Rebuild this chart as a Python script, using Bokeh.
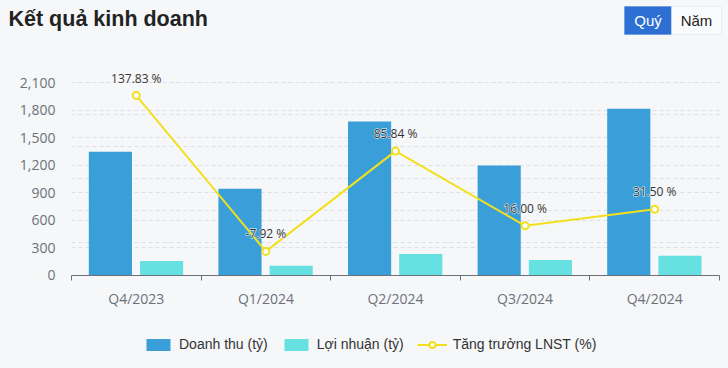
from bokeh.plotting import figure
from bokeh.models import (ColumnDataSource, Range1d, FixedTicker, Grid, NumeralTickFormatter,
                          LinearAxis, Label, LabelSet, BoxAnnotation, Legend, LegendItem)
from bokeh.transform import dodge
from bokeh.core.properties import value
from bokeh.embed import file_html
from bokeh.resources import INLINE

# ---- data ----
quarters = ["Q4/2023", "Q1/2024", "Q2/2024", "Q3/2024", "Q4/2024"]
revenue = [1345, 940, 1675, 1195, 1815]
profit = [152, 100, 228, 165, 210]
growth = [137.83, -7.92, 85.84, 16.00, 31.50]
y_ticks = [0, 300, 600, 900, 1200, 1500, 1800, 2100]
pct_ticks = [-30, 0, 30, 60, 90, 120, 150]

BG = "#f5f7f9"
C_REV = "#3a9fd8"
C_PRO = "#66e0e1"
C_LINE = "#f3e01c"
AX = "#6e7079"
GRID = "#dce0e7"

# ---- layout (page pixels) ----
W, H = 728, 368
PL, PR, PT, PB = 71, 719, 82, 274.5   # plotting area edges
n = len(quarters)
ux = n / (PR - PL)                          # x data units per pixel
uy = (y_ticks[-1] - y_ticks[0]) / (PB - PT) # left axis units per pixel
up = (pct_ticks[-1] - pct_ticks[0]) / (PB - PT)

src = ColumnDataSource(dict(
    x=[i + 0.5 for i in range(n)],
    rev=revenue, pro=profit, g=growth,
    lab=["%.2f %%" % v for v in growth],
))

p = figure(width=W, height=H, output_backend="svg", toolbar_location=None,
           x_range=Range1d(-PL * ux, n + (W - PR) * ux),
           y_range=Range1d(y_ticks[0] - (H - PB) * uy, y_ticks[-1] + PT * uy),
           min_border=0, background_fill_color=BG, border_fill_color=BG,
           outline_line_color=None, x_axis_location=None, y_axis_location=None)
p.extra_y_ranges = {"pct": Range1d(pct_ticks[0] - (H - PB) * up, pct_ticks[-1] + PT * up)}
p.xgrid.visible = False
p.ygrid.visible = False

# grids
g1 = Grid(dimension=1, ticker=FixedTicker(ticks=y_ticks), cross_bounds=(0, n),
          grid_line_color=GRID, grid_line_dash="4 3")
g2 = Grid(dimension=1, ticker=FixedTicker(ticks=pct_ticks), y_range_name="pct",
          cross_bounds=(0, n), grid_line_color=GRID, grid_line_dash="4 3")
p.add_layout(g1)
p.add_layout(g2)

# axes
ya = LinearAxis(fixed_location=0, ticker=FixedTicker(ticks=y_ticks),
                formatter=NumeralTickFormatter(format="0,0"),
                axis_line_color=None, major_tick_line_color=None, minor_tick_line_color=None,
                major_label_text_font="Open Sans", major_label_text_font_size="14px",
                major_label_text_color=AX, major_label_standoff=10)
p.add_layout(ya, "left")

xa = LinearAxis(fixed_location=0, bounds=(0, n),
                ticker=FixedTicker(ticks=[i + 0.5 for i in range(n)],
                                   minor_ticks=list(range(n + 1))),
                major_label_overrides={i + 0.5: q for i, q in enumerate(quarters)},
                axis_line_color=AX, major_tick_line_color=None,
                minor_tick_line_color=AX, minor_tick_out=5, minor_tick_in=0,
                major_label_text_font="Open Sans", major_label_text_font_size="14px",
                major_label_text_color=AX, major_label_standoff=8)
p.add_layout(xa, "below")

# bars
r1 = p.vbar(x=dodge("x", -0.2, range=p.x_range), top="rev", bottom=0, width=0.333,
            source=src, fill_color=C_REV, line_color=None)
r2 = p.vbar(x=dodge("x", 0.195, range=p.x_range), top="pro", bottom=0, width=0.333,
            source=src, fill_color=C_PRO, line_color=None)

# line
rl = p.line(x="x", y="g", source=src, y_range_name="pct", line_color=C_LINE, line_width=2)
rc = p.scatter(x="x", y="g", source=src, y_range_name="pct", marker="circle", size=7,
               fill_color="white", line_color=C_LINE, line_width=2)

lab_kw = dict(x="x", y="g", text="lab", source=src, y_range_name="pct",
              y_offset=9, text_align="center", text_baseline="bottom",
              text_font=value("Open Sans"), text_font_size=value("12px"),
              text_color=value("#333333"))
p.add_layout(LabelSet(text_outline_color=value("white"), **lab_kw))
p.add_layout(LabelSet(**lab_kw))

# legend
legend = Legend(items=[
    LegendItem(label="Doanh thu (tỷ)", renderers=[r1]),
    LegendItem(label="Lợi nhuận (tỷ)", renderers=[r2]),
    LegendItem(label="Tăng trưởng LNST (%)", renderers=[rl, rc]),
], orientation="horizontal", location=(143, H - 352),
    glyph_width=30, glyph_height=15, label_height=15, label_standoff=6, spacing=13,
    padding=0, margin=0, border_line_color=None, background_fill_alpha=0,
    label_text_font="Liberation Sans", label_text_font_size="14px", label_text_color="#333333")
p.add_layout(legend)

# title
p.add_layout(Label(x=8, y=H - 18, x_units="screen", y_units="screen",
                   text="Kết quả kinh doanh", text_font="Liberation Sans",
                   text_font_style="bold", text_font_size="21.5px", text_color="#222222",
                   text_baseline="middle"))

# buttons
box_kw = dict(left_units="screen", right_units="screen", bottom_units="screen",
              top_units="screen", fill_alpha=1, bottom=H - 34, top=H - 6)
p.add_layout(BoxAnnotation(left=624, right=671, fill_color="#2e6fd3",
                           line_color="#2e6fd3", **box_kw))
p.add_layout(BoxAnnotation(left=671, right=721, fill_color="#fafbfc",
                           line_color="#d0d4da", **box_kw))
p.add_layout(Label(x=647.5, y=H - 20, x_units="screen", y_units="screen",
                   text="Quý", text_font="Liberation Sans", text_font_size="15px",
                   text_color="white", text_align="center", text_baseline="middle"))
p.add_layout(Label(x=696, y=H - 20, x_units="screen", y_units="screen",
                   text="Năm", text_font="Liberation Sans", text_font_size="15px",
                   text_color="#222222", text_align="center", text_baseline="middle"))

html = file_html(p, INLINE)
html = html.replace("</head>",
                    "<style>html,body{margin:0;padding:0;background:%s;}</style></head>" % BG, 1)
with open("out.html", "w", encoding="utf-8") as f:
    f.write(html)
